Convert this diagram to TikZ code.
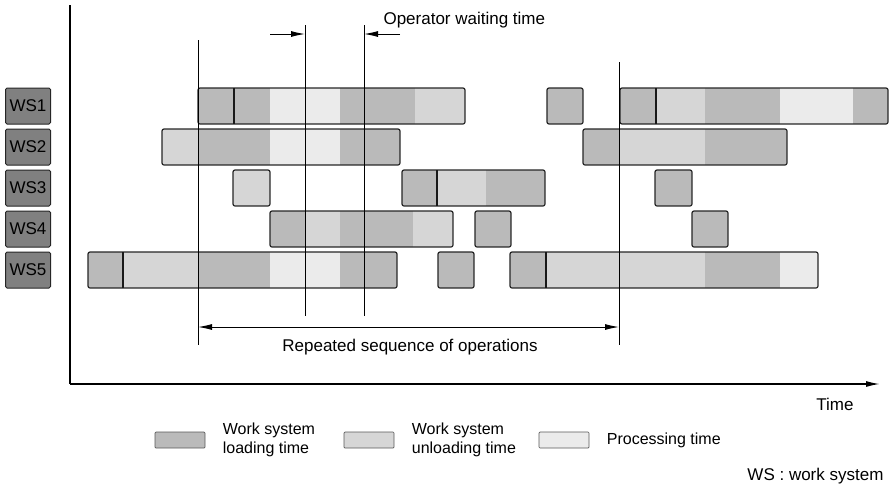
\documentclass[tikz,border=0pt]{standalone}
\usepackage{fontspec}
\setmainfont{Liberation Sans}
\usetikzlibrary{arrows.meta, positioning, calc}

% one segment, one outline, one divider of a work-system bar (x from, x to, row)
\newcommand{\wsseg}[4]{\fill[#4] (#1,#3-18) rectangle (#2,#3+18);}
\newcommand{\wsframe}[3]{\draw[barline] (#1,#3-18) rectangle (#2,#3+18);}
\newcommand{\wsdiv}[2]{\draw[divline] (#1,#2-18) -- (#1,#2+18);}

\begin{document}
\begin{tikzpicture}[
    x=1pt, y=-1pt,
    font=\fontsize{17}{20}\selectfont,
    wsbox/.style={
        rectangle, rounded corners=1.5pt, draw=black!85, fill=black!50,
        line width=1pt, minimum width=45pt, minimum height=36pt, inner sep=0pt,
    },
    barline/.style={draw=black!85, line width=1.2pt, rounded corners=2pt},
    divline/.style={black!90, line width=1.7pt},
    loadfill/.style={fill=black!27},
    unloadfill/.style={fill=black!16},
    procfill/.style={fill=black!8},
    marker/.style={black, line width=0.9pt},
    axis/.style={black, line width=1.5pt},
    arr/.style={-{Latex[length=14pt, width=6pt]}, black, line width=1pt},
    dblarr/.style={{Latex[length=14pt, width=6pt]}-{Latex[length=14pt, width=6pt]}, black, line width=1pt},
    legbox/.style={
        rectangle, rounded corners=1pt, draw=black!65, line width=0.7pt,
        minimum width=50pt, minimum height=16pt, inner sep=0pt,
    },
    legtext/.style={font=\fontsize{16}{19}\selectfont, align=left, right=14pt of #1},
]
\useasboundingbox (0,0) rectangle (892,491);

% -- Work system labels --
\node[wsbox] (ws1) at (28,106) {WS1};
\node[wsbox] (ws2) at (28,147) {WS2};
\node[wsbox] (ws3) at (28,188) {WS3};
\node[wsbox] (ws4) at (28,229) {WS4};
\node[wsbox] (ws5) at (28,270) {WS5};

% -- WS1 --
\wsseg{198}{270}{106}{loadfill}
\wsseg{270}{340}{106}{procfill}
\wsseg{340}{415}{106}{loadfill}
\wsseg{415}{465}{106}{unloadfill}
\wsframe{198}{465}{106}
\wsdiv{234}{106}
\wsseg{547}{583}{106}{loadfill}
\wsframe{547}{583}{106}
\wsseg{620}{656}{106}{loadfill}
\wsseg{656}{705}{106}{unloadfill}
\wsseg{705}{780}{106}{loadfill}
\wsseg{780}{853}{106}{procfill}
\wsseg{853}{888}{106}{loadfill}
\wsframe{620}{888}{106}
\wsdiv{656}{106}

% -- WS2 --
\wsseg{162}{198}{147}{unloadfill}
\wsseg{198}{270}{147}{loadfill}
\wsseg{270}{340}{147}{procfill}
\wsseg{340}{400}{147}{loadfill}
\wsframe{162}{400}{147}
\wsseg{583}{620}{147}{loadfill}
\wsseg{620}{705}{147}{unloadfill}
\wsseg{705}{787}{147}{loadfill}
\wsframe{583}{787}{147}

% -- WS3 --
\wsseg{233}{270}{188}{unloadfill}
\wsframe{233}{270}{188}
\wsseg{402}{437}{188}{loadfill}
\wsseg{437}{486}{188}{unloadfill}
\wsseg{486}{545}{188}{loadfill}
\wsframe{402}{545}{188}
\wsdiv{437}{188}
\wsseg{655}{692}{188}{loadfill}
\wsframe{655}{692}{188}

% -- WS4 --
\wsseg{270}{305}{229}{loadfill}
\wsseg{305}{340}{229}{unloadfill}
\wsseg{340}{413}{229}{loadfill}
\wsseg{413}{453}{229}{unloadfill}
\wsframe{270}{453}{229}
\wsseg{475}{511}{229}{loadfill}
\wsframe{475}{511}{229}
\wsseg{692}{728}{229}{loadfill}
\wsframe{692}{728}{229}

% -- WS5 --
\wsseg{88}{123}{270}{loadfill}
\wsseg{123}{198}{270}{unloadfill}
\wsseg{198}{270}{270}{loadfill}
\wsseg{270}{340}{270}{procfill}
\wsseg{340}{397}{270}{loadfill}
\wsframe{88}{397}{270}
\wsdiv{123}{270}
\wsseg{438}{474}{270}{loadfill}
\wsframe{438}{474}{270}
\wsseg{510}{546}{270}{loadfill}
\wsseg{546}{705}{270}{unloadfill}
\wsseg{705}{780}{270}{loadfill}
\wsseg{780}{818}{270}{procfill}
\wsframe{510}{818}{270}
\wsdiv{546}{270}

% -- Marker lines --
\coordinate (m1top) at (198,40);  \coordinate (m1bot) at (198,345);
\coordinate (m2top) at (305,25);  \coordinate (m2bot) at (305,316);
\coordinate (m3top) at (364,25);  \coordinate (m3bot) at (364,316);
\coordinate (m4top) at (619,62);  \coordinate (m4bot) at (619,345);
\foreach \m in {1,...,4}
    \draw[marker] (m\m top) -- (m\m bot);

% -- Operator waiting time --
\coordinate (wl) at (270,34);
\coordinate (wr) at (400,34);
\draw[arr] (wl) -- (wl -| m2top);
\draw[arr] (wr) -- (wr -| m3top);
\node[anchor=west] (wait) at (380,20) {Operator waiting time};

% -- Repeated sequence --
\draw[dblarr] ($(m1bot)+(0,-18)$) -- ($(m4bot)+(0,-18)$);
\node (rseq) at (410,347) {Repeated sequence of operations};

% -- Axes --
\coordinate (origin) at (70,384);
\coordinate (ytop) at (70,5);
\coordinate (xend) at (880,384);
\draw[axis] (ytop) -- (origin);
\draw[axis, -{Latex[length=14pt, width=6pt]}] (origin) -- (xend);
\node (time) at (835,404) {Time};

% -- Legend --
\node[legbox, loadfill] (lg1) at (180,440) {};
\node[legtext=lg1] (lt1) {Work system\\loading time};
\node[legbox, unloadfill] (lg2) at (369,440) {};
\node[legtext=lg2] (lt2) {Work system\\unloading time};
\node[legbox, procfill] (lg3) at (564,440) {};
\node[legtext=lg3] (lt3) {Processing time};

\node[anchor=east] (wsnote) at (887,476) {WS : work system};

\end{tikzpicture}
\end{document}
